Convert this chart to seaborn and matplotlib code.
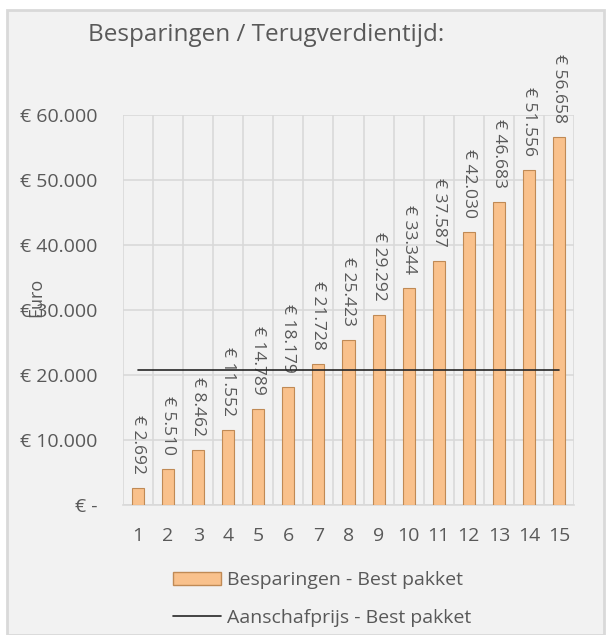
import pandas as pd
import matplotlib.pyplot as plt
import seaborn as sns
import numpy as np
from matplotlib.patches import Rectangle, Patch
from matplotlib.lines import Line2D

# Data
years = list(range(1, 16))
besparingen = [2692, 5510, 8462, 11552, 14789, 18179, 21728, 25423,
               29292, 33344, 37587, 42030, 46683, 51556, 56658]
aanschafprijs = [20750] * 15
y_ticks = [0, 10000, 20000, 30000, 40000, 50000, 60000]

bar_color = "#f9c18c"
bar_edge = "#c08a55"
text_color = "#595959"
grid_color = "#d9d9d9"
bg = "#f2f2f2"

sns.set_style("white")
plt.rcParams["font.family"] = ["Open Sans", "DejaVu Sans"]

df = pd.DataFrame({"jaar": years, "besparing": besparingen})

fig = plt.figure(figsize=(6.12, 6.35), dpi=100, facecolor="white")
fig.patches.append(Rectangle((7 / 612, 0), 597 / 612, 625 / 635, transform=fig.transFigure,
                             facecolor=bg, edgecolor=grid_color, lw=2, zorder=-10))
ax = fig.add_axes([123 / 612, 1 - 505 / 635, 451 / 612, 390 / 635])
ax.set_facecolor(bg)

sns.barplot(data=df, x="jaar", y="besparing", ax=ax, color=bar_color, width=0.4,
            edgecolor=bar_edge, linewidth=0.8, saturation=1, zorder=3)
for p in ax.patches:
    p.set_facecolor(bar_color)

ax.plot(np.arange(len(years)), aanschafprijs, color="#262626", lw=1.2, zorder=4)

labels = ["€ " + f"{v:,}".replace(",", ".") for v in besparingen]
ax.bar_label(ax.containers[0], labels=labels, rotation=-90, padding=10,
             fontsize=12.5, color=text_color)

ax.set_ylim(0, 60000)
ax.set_xlim(-0.5, 14.5)
ax.set_yticks(y_ticks)
ax.set_yticklabels(["€ -" if v == 0 else "€ " + f"{v:,}".replace(",", ".") for v in y_ticks])
ax.set_xticks(np.arange(15), [str(y) for y in years])
ax.set_xticks(np.arange(-0.5, 15, 1), minor=True)

ax.grid(axis="y", color=grid_color, lw=1.2, zorder=0)
ax.grid(axis="x", which="minor", color=grid_color, lw=1.2, zorder=0)
ax.tick_params(axis="x", which="major", length=0, pad=16, labelsize=14, colors=text_color)
ax.tick_params(axis="x", which="minor", length=7, color=grid_color, width=1.2)
ax.tick_params(axis="y", length=0, pad=18.5, labelsize=14, colors=text_color)
for s in ["top", "right", "left"]:
    ax.spines[s].set_visible(False)
ax.spines["bottom"].set_color(grid_color)
ax.spines["bottom"].set_linewidth(1.2)

ax.set_xlabel("")
ax.set_ylabel("Euro", fontsize=13, color=text_color)
ax.yaxis.set_label_coords(-0.172, 0.533)

fig.text(266 / 612, 1 - 35 / 635, "Besparingen / Terugverdientijd:", ha="center", va="center",
         fontsize=17.5, color=text_color)

handles = [Patch(facecolor=bar_color, edgecolor=bar_edge),
           Line2D([0], [0], color="#262626", lw=1.2)]
fig.legend(handles, ["Besparingen - Best pakket", "Aanschafprijs - Best pakket"],
           loc="center", bbox_to_anchor=(322 / 612, 1 - 599 / 635), frameon=False,
           fontsize=14, labelcolor=text_color, handlelength=2.5, handletextpad=0.3,
           labelspacing=1.0)

plt.savefig("out.png", dpi=100, facecolor="white")
